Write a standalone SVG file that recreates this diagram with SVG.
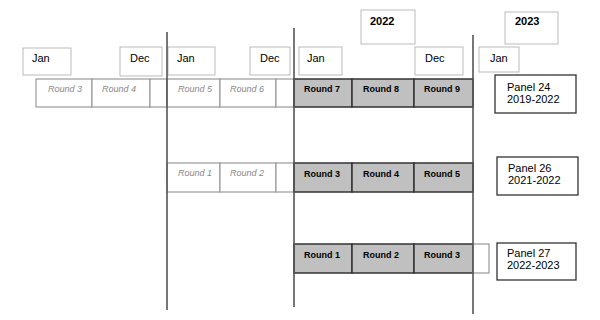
<svg xmlns="http://www.w3.org/2000/svg" width="600" height="320" viewBox="0 0 600 320">
<style>
.lbl{fill:#fff;stroke:#bbb;stroke-width:1}
.t{font-family:"Liberation Sans",Arial,sans-serif;font-size:11px;fill:#000}
.tb{font-family:"Liberation Sans",Arial,sans-serif;font-size:11px;font-weight:bold;fill:#000}
.old{fill:#fff;stroke:#999;stroke-width:1.2}
.ot{font-family:"Liberation Sans",Arial,sans-serif;font-size:9px;font-style:italic;fill:#888}
.cur{fill:#c0c0c0;stroke:#333;stroke-width:1.5}
.ct{font-family:"Liberation Sans",Arial,sans-serif;font-size:9px;font-weight:bold;fill:#000}
.pan{fill:#fff;stroke:#333;stroke-width:1.3}
.vl{stroke:#555;stroke-width:1.6;fill:none}
</style>
<rect width="600" height="320" fill="#fff"/>
<g id="axis">
<g id="y2022"><rect class="lbl" x="361" y="10" width="54" height="34"/><text class="tb" x="370" y="25">2022</text></g>
<g id="y2023"><rect class="lbl" x="505" y="12" width="53" height="32"/><text class="tb" x="515" y="25">2023</text></g>
<g id="jan1"><rect class="lbl" x="23" y="48" width="48" height="27"/><text class="t" x="32" y="62">Jan</text></g>
<g id="dec1"><rect class="lbl" x="120" y="47" width="42" height="29"/><text class="t" x="130" y="62">Dec</text></g>
<g id="jan2"><rect class="lbl" x="168" y="47" width="47" height="28"/><text class="t" x="177" y="62">Jan</text></g>
<g id="dec2"><rect class="lbl" x="250" y="47" width="40" height="28"/><text class="t" x="260" y="62">Dec</text></g>
<g id="jan3"><rect class="lbl" x="299" y="47" width="43" height="28"/><text class="t" x="307" y="62">Jan</text></g>
<g id="dec3"><rect class="lbl" x="415" y="47" width="48" height="28"/><text class="t" x="425" y="62">Dec</text></g>
<g id="jan4"><rect class="lbl" x="479" y="47" width="40" height="25"/><text class="t" x="490" y="62">Jan</text></g>
</g>
<g id="panel24row">
<rect class="old" x="36" y="79" width="56" height="28"/><text class="ot" x="48" y="92">Round 3</text>
<rect class="old" x="92" y="79" width="58" height="28"/><text class="ot" x="102" y="92">Round 4</text>
<rect class="old" x="150" y="79" width="17" height="28"/>
<rect class="old" x="167" y="79" width="53" height="28"/><text class="ot" x="178" y="92">Round 5</text>
<rect class="old" x="220" y="79" width="56" height="28"/><text class="ot" x="230" y="92">Round 6</text>
<rect class="old" x="276" y="79" width="18" height="28"/>
<rect class="cur" x="294" y="79" width="58" height="28"/><text class="ct" x="304" y="92">Round 7</text>
<rect class="cur" x="352" y="79" width="62" height="28"/><text class="ct" x="363" y="92">Round 8</text>
<rect class="cur" x="414" y="79" width="59" height="28"/><text class="ct" x="424" y="92">Round 9</text>
</g>
<g id="panel26row">
<rect class="old" x="167" y="163" width="53" height="29"/><text class="ot" x="178" y="176">Round 1</text>
<rect class="old" x="220" y="163" width="56" height="29"/><text class="ot" x="230" y="176">Round 2</text>
<rect class="old" x="276" y="163" width="18" height="29"/>
<rect class="cur" x="294" y="163" width="58" height="29"/><text class="ct" x="304" y="177">Round 3</text>
<rect class="cur" x="352" y="163" width="62" height="29"/><text class="ct" x="363" y="177">Round 4</text>
<rect class="cur" x="414" y="163" width="59" height="29"/><text class="ct" x="424" y="177">Round 5</text>
</g>
<g id="panel27row">
<rect class="cur" x="294" y="244" width="58" height="29"/><text class="ct" x="304" y="258">Round 1</text>
<rect class="cur" x="352" y="244" width="62" height="29"/><text class="ct" x="363" y="258">Round 2</text>
<rect class="cur" x="414" y="244" width="59" height="29"/><text class="ct" x="424" y="258">Round 3</text>
<rect class="old" x="473" y="244" width="16" height="29" stroke="#aaa"/>
</g>
<g id="connectors">
<line class="vl" x1="167" y1="32" x2="167" y2="310"/>
<line class="vl" x1="294" y1="28" x2="294" y2="307"/>
<line class="vl" x1="473" y1="35" x2="473" y2="314"/>
</g>
<g id="p24"><rect class="pan" x="495" y="75" width="81" height="38"/><text class="t" x="507" y="91">Panel 24</text><text class="t" x="507" y="103">2019-2022</text></g>
<g id="p26"><rect class="pan" x="497" y="157" width="81" height="38"/><text class="t" x="508" y="172">Panel 26</text><text class="t" x="508" y="184">2021-2022</text></g>
<g id="p27"><rect class="pan" x="497" y="243" width="79" height="37"/><text class="t" x="507" y="257">Panel 27</text><text class="t" x="507" y="269">2022-2023</text></g>
</svg>
